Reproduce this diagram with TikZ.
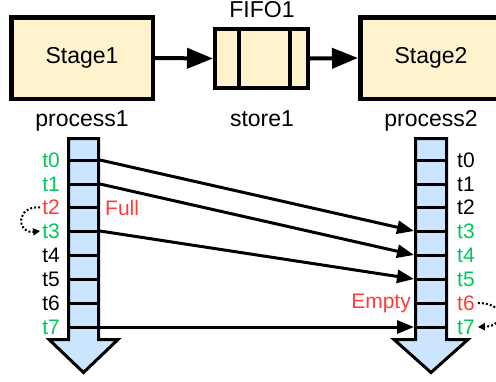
\documentclass[tikz,border=0pt]{standalone}
\usepackage{fontspec}
\setmainfont{Liberation Sans}
\usetikzlibrary{arrows.meta}
\definecolor{boxfill}{RGB}{255,242,204}
\definecolor{barfill}{RGB}{204,229,255}
\definecolor{okgreen}{RGB}{0,200,90}
\definecolor{warnred}{RGB}{255,60,60}
\tikzset{
  stagebox/.style={draw=black, line width=4.5pt, fill=boxfill,
    minimum width=141.5pt, minimum height=81.5pt, inner sep=0pt,
    font=\fontsize{23}{27}\selectfont},
  fifobox/.style={draw=black, line width=4pt, fill=boxfill,
    minimum width=93pt, minimum height=59pt, inner sep=0pt},
  biglabel/.style={inner sep=0pt, anchor=base, font=\fontsize{23}{27}\selectfont},
  tlabel/.style={inner sep=0pt, font=\fontsize{21}{25}\selectfont},
  timebar/.style={draw=black, line width=3pt, fill=barfill, line join=miter},
  tick/.style={draw=black, line width=3pt},
  flow/.style={draw=black, line width=4pt, -{Triangle[length=26pt,width=20pt]}},
  transfer/.style={draw=black, line width=3pt, -{Triangle[length=17pt,width=13pt]}},
  stall/.style={draw=black, line width=2pt, dash pattern=on 2pt off 2pt,
    -{Triangle[length=7pt,width=7pt]}},
}
\begin{document}
\begin{tikzpicture}[x=1pt, y=-1pt]
  \useasboundingbox (0,0) rectangle (496,381);
  \clip (0,0) rectangle (496,381);

  % pipeline stages and the FIFO between them
  \node[stagebox] (stage1) at (82,58) {Stage1};
  \node[stagebox] (stage2) at (431,58) {Stage2};
  \node[fifobox] (fifo) at (261.5,58.5) {};
  \draw[line width=4pt] (fifo.north -| 238.5,0) -- (fifo.south -| 238.5,0);
  \draw[line width=4pt] (fifo.north -| 290,0) -- (fifo.south -| 290,0);
  \path[flow] (stage1.east) -- (fifo.west);
  \path[flow] (fifo.east) -- (stage2.west);

  \node[biglabel] (fifolbl) at (262,17) {FIFO1};
  \node[biglabel] (proc1) at (82,126) {process1};
  \node[biglabel] (store1) at (262,126) {store1};
  \node[biglabel] (proc2) at (431,126) {process2};

  % time bars
  \path[timebar] (68.5,138.5) -- (98.5,138.5) -- (98.5,339.5) -- (118,339.5)
    -- (83.5,372.5) -- (49,339.5) -- (68.5,339.5) -- cycle;
  \path[timebar] (415.5,138.5) -- (446.5,138.5) -- (446.5,339.5) -- (468,339.5)
    -- (431,372.5) -- (394,339.5) -- (415.5,339.5) -- cycle;

  % ticks, edge coordinates and time labels
  \foreach \i/\y/\lc/\rc in {0/160/okgreen/black, 1/184/okgreen/black,
      2/207.5/warnred/black, 3/231/okgreen/okgreen, 4/255/black/okgreen,
      5/279/black/okgreen, 6/303/black/warnred, 7/327/okgreen/okgreen} {
    \draw[tick] (67,\y) -- (100,\y);
    \draw[tick] (414,\y) -- (448,\y);
    \coordinate (L\i) at (100,\y);
    \coordinate (R\i) at (414,\y);
    \node[tlabel, anchor=east, text=\lc] (lt\i) at (60,\y) {t\i};
    \node[tlabel, anchor=west, text=\rc] (rt\i) at (457,\y) {t\i};
  }

  \node[tlabel, anchor=west, text=warnred] (full) at (105,207.5) {Full};
  \node[tlabel, anchor=east, text=warnred] (empty) at (411,303) {Empty};

  % token transfers through the FIFO
  \path[transfer] (L0) -- (R3);
  \path[transfer] (L1) -- (R4);
  \path[transfer] (L3) -- (R5);
  \path[transfer] (L7) -- (R7);

  % stalls
  \draw[stall] ([xshift=-2pt]lt2.west) .. controls (16,205) and (16,234) .. ([xshift=-2pt]lt3.west);
  \draw[stall] ([xshift=3pt]rt6.east) .. controls (506,303) and (506,326) .. ([xshift=3pt]rt7.east);
\end{tikzpicture}
\end{document}
